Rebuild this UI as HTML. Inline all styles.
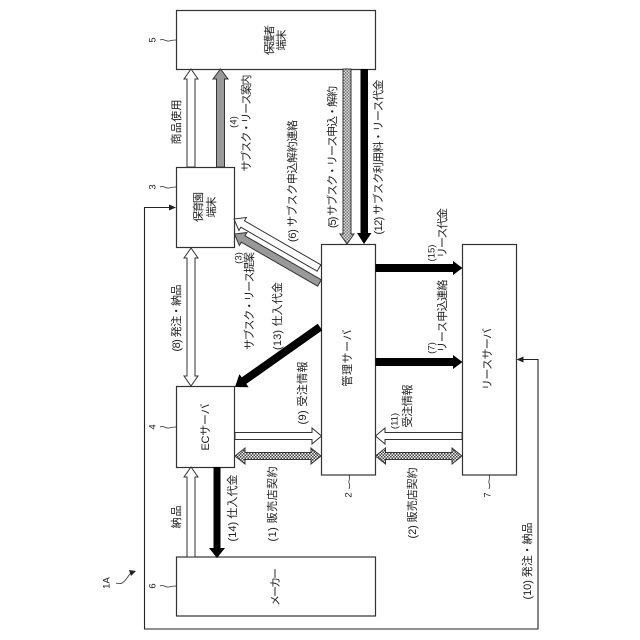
<!DOCTYPE html>
<html><head><meta charset="utf-8"><style>
html,body{margin:0;padding:0;background:#fff}
svg{display:block}
text{font-family:"Liberation Sans","Noto Sans CJK JP",sans-serif;fill:#222;text-anchor:middle;dominant-baseline:central;font-size:11px}
.n{font-size:9.5px}
</style></head><body>
<svg width="640" height="640" viewBox="0 0 640 640" xmlns="http://www.w3.org/2000/svg">
<defs>
<pattern id="d" width="3" height="3" patternUnits="userSpaceOnUse"><rect width="3" height="3" fill="#ddd"/><rect width="1.5" height="1.5" fill="#777"/><rect x="1.5" y="1.5" width="1.5" height="1.5" fill="#777"/></pattern>
<pattern id="c" width="3" height="3" patternUnits="userSpaceOnUse"><rect width="3" height="3" fill="#eee"/><rect width="1.5" height="1.5" fill="#444"/><rect x="1.5" y="1.5" width="1.5" height="1.5" fill="#444"/></pattern>
</defs>
<g fill="#fff" stroke="#333" stroke-width="1.2">
<rect x="176.5" y="10.5" width="199" height="59"/>
<rect x="176.5" y="167.5" width="58" height="80"/>
<rect x="176.5" y="386.5" width="58" height="81"/>
<rect x="176.5" y="557" width="199" height="59"/>
<rect x="321.5" y="244.5" width="54" height="230.5"/>
<rect x="462.5" y="244.5" width="54" height="230.5"/>
</g>
<path d="M520 359.5H538V629H144.5V207.5H170" fill="none" stroke="#222" stroke-width="1.1"/>
<path d="M176 207.5l-7-3v6zM516.5 359.5l7-3v6z" fill="#222"/>
<g stroke="#333" stroke-width="1" fill="#fff">
<polygon points="187,167 187,79 184,79 191,69 198,79 195,79 195,167"/>
<polygon points="216.5,167 216.5,79 213,79 220.5,69 228,79 224.5,79 224.5,167" fill="#999"/>
<polygon points="343,69 343,234 340,234 347,244 354,234 351,234 351,69" fill="url(#d)"/>
<polygon points="187,258 184,258 191,248 198,258 195,258 195,376 198,376 191,386 184,376 187,376"/>
<polygon points="187,557 187,477 184,477 191,467 198,477 195,477 195,557"/>
<polygon points="320.85,264.8 244.5,220.8 246.4,217.5 234,219 238.9,230.5 240.8,227.2 317.15,271.2"/>
<polygon points="320.85,264.8 244.5,220.8 246.4,217.5 234,219 238.9,230.5 240.8,227.2 317.15,271.2" fill="#999" transform="translate(0.5 15)"/>
<polygon points="235,432.5 312,432.5 312,428 321.5,436 312,444 312,439.5 235,439.5"/>
<polygon points="462,432.5 385,432.5 385,428 375.5,436 385,444 385,439.5 462,439.5"/>
<polygon points="235,456 245,448 245,452.5 311,452.5 311,448 321,456 311,464 311,459.5 245,459.5 245,464" fill="url(#c)"/>
<polygon points="375.5,456 385.5,448 385.5,452.5 452,452.5 452,448 462,456 452,464 452,459.5 385.5,459.5 385.5,464" fill="url(#c)"/>
</g>
<g fill="#000">
<polygon points="360.5,69 360.5,233 357,233 364,244 371.5,233 368,233 368,69"/>
<polygon points="213.5,467 213.5,548 209,548 217,558 225,548 220.5,548 220.5,467"/>
<polygon points="375.5,264 453,264 453,261 462.5,268 453,275 453,272 375.5,272"/>
<polygon points="375.5,358 453,358 453,355 462.5,362 453,369 453,366 375.5,366"/>
<polygon points="317.7,323.7 241.7,377.4 239.4,374.1 235,387 248.6,387.2 246.3,383.9 322.3,330.3"/>
</g>
<g fill="none" stroke="#333" stroke-width="0.8">
<path d="M160 40c4-2 6 2 9 1s4-1 7-1"/>
<path d="M160 187c4-2 6 2 9 1s4-1 7-1"/>
<path d="M160 427c4-2 6 2 9 1s4-1 7-1"/>
<path d="M160 586c4-2 6 2 9 1s4-1 7-1"/>
<path d="M349 475c2 3-1 5 0 8s1 3 0 6"/>
<path d="M489 475c2 3-1 5 0 8s1 3 0 6"/>
<path d="M116 583c6 2 8-1 11-5s3-5 6-6"/>
</g>
<path d="M136 571l-7-1 2 6z" fill="#222"/>

<text transform="translate(270 40) rotate(-90)" textLength="30">保護者</text>
<text transform="translate(282 40) rotate(-90)" textLength="21">端末</text>
<text transform="translate(199 207) rotate(-90)" textLength="30">保育園</text>
<text transform="translate(212 207) rotate(-90)" textLength="21">端末</text>
<text transform="translate(206 427) rotate(-90)" textLength="47">ECサーバ</text>
<text transform="translate(348 358) rotate(-90)" textLength="57">管理サーバ</text>
<text transform="translate(488 359) rotate(-90)" textLength="62">リースサーバ</text>
<text transform="translate(276 587) rotate(-90)" textLength="38">メーカー</text>

<text transform="translate(177 122) rotate(-90)" textLength="45">商品使用</text>
<text class="n" transform="translate(234 122) rotate(-90)">(4)</text>
<text transform="translate(247 123) rotate(-90)" textLength="97">サブスク・リース案内</text>
<text transform="translate(293 181) rotate(-90)" textLength="122">(6) サブスク申込解約連絡</text>
<text transform="translate(333 157) rotate(-90)" textLength="142">(5) サブスク・リース申込・解約</text>
<text transform="translate(379 157) rotate(-90)" textLength="155">(12) サブスク利用料・リース代金</text>
<text class="n" transform="translate(239 258) rotate(-90)">(3)</text>
<text transform="translate(250 301) rotate(-90)" textLength="98">サブスク・リース提案</text>
<text transform="translate(278 316) rotate(-90)" textLength="68">(13) 仕入代金</text>
<text transform="translate(177 318) rotate(-90)" textLength="67">(8) 発注・納品</text>
<text transform="translate(303 393) rotate(-90)" textLength="63">(9) 受注情報</text>
<text transform="translate(273 504) rotate(-90)" textLength="75">(1) 販売店契約</text>
<text transform="translate(233 508) rotate(-90)" textLength="67">(14) 仕入代金</text>
<text transform="translate(177 517) rotate(-90)" textLength="23">納品</text>
<text class="n" transform="translate(432 253) rotate(-90)">(15)</text>
<text transform="translate(443 233) rotate(-90)" textLength="50">リース代金</text>
<text class="n" transform="translate(432 348) rotate(-90)">(7)</text>
<text transform="translate(443 316) rotate(-90)" textLength="73">リース申込連絡</text>
<text class="n" transform="translate(395 421) rotate(-90)">(11)</text>
<text transform="translate(408 406) rotate(-90)" textLength="43">受注情報</text>
<text transform="translate(413 503) rotate(-90)" textLength="71">(2) 販売店契約</text>
<text transform="translate(528 561) rotate(-90)" textLength="77">(10) 発注・納品</text>

<text class="n" transform="translate(153 40) rotate(-90)">5</text>
<text class="n" transform="translate(153 187) rotate(-90)">3</text>
<text class="n" transform="translate(153 427) rotate(-90)">4</text>
<text class="n" transform="translate(153 586) rotate(-90)">6</text>
<text class="n" transform="translate(349 495) rotate(-90)">2</text>
<text class="n" transform="translate(488 495) rotate(-90)">7</text>
<text class="n" transform="translate(107 583) rotate(-90)">1A</text>
</svg>
</body></html>
